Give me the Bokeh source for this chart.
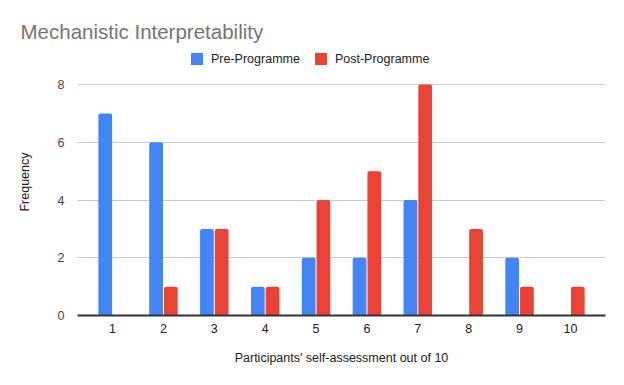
from bokeh.plotting import figure
from bokeh.models import Range1d, FixedTicker, Legend, LegendItem
from bokeh.embed import file_html
from bokeh.resources import INLINE

scores = [1, 2, 3, 4, 5, 6, 7, 8, 9, 10]
pre_programme = [7, 6, 3, 1, 2, 2, 4, 0, 2, 0]
post_programme = [0, 1, 3, 1, 4, 5, 8, 3, 1, 1]
y_ticks = [0, 2, 4, 6, 8]

FONT = "Liberation Sans"
BLUE = "#4285F4"
RED = "#EA4335"

p = figure(width=616, height=377, output_backend="svg", toolbar_location=None,
           x_range=Range1d(0.31, 10.69), y_range=Range1d(0, 9.25),
           min_border_left=77, min_border_right=11, min_border_top=48, min_border_bottom=62)

r1 = p.vbar(x=[s - 0.145 for s in scores], top=pre_programme, width=0.27, bottom=0,
            fill_color=BLUE, line_color=None, border_radius=(2, 2, 0, 0))
r2 = p.vbar(x=[s + 0.145 for s in scores], top=post_programme, width=0.27, bottom=0,
            fill_color=RED, line_color=None, border_radius=(2, 2, 0, 0))

p.title.text = "Mechanistic Interpretability"
p.title.text_font = FONT
p.title.text_font_size = "20.5px"
p.title.text_font_style = "normal"
p.title.text_color = "#757575"
p.title.offset = -57
p.title.standoff = 11

legend = Legend(items=[LegendItem(label="Pre-Programme", renderers=[r1]),
                       LegendItem(label="Post-Programme", renderers=[r2])],
                orientation="horizontal", location=(112, 249),
                label_text_font=FONT, label_text_font_size="12.5px", label_text_color="#222222",
                glyph_width=15, glyph_height=15, spacing=13, label_standoff=7,
                label_height=15, border_line_color=None, background_fill_alpha=0,
                padding=0, margin=0)
p.add_layout(legend, "center")

p.xaxis.ticker = FixedTicker(ticks=scores)
p.yaxis.ticker = FixedTicker(ticks=y_ticks)
p.xgrid.grid_line_color = None
p.ygrid.grid_line_color = "#cccccc"
p.ygrid.grid_line_width = 1

for ax in (p.xaxis, p.yaxis):
    ax.major_tick_line_color = None
    ax.minor_tick_line_color = None
    ax.major_label_text_font = FONT
    ax.major_label_text_font_size = "12.5px"
    ax.axis_label_text_font = FONT
    ax.axis_label_text_font_size = "12.5px"
    ax.axis_label_text_font_style = "normal"
    ax.axis_label_text_color = "#222222"

p.yaxis.axis_line_color = None
p.yaxis.major_label_text_color = "#444444"
p.yaxis.axis_label = "Frequency"
p.yaxis.major_label_standoff = 7
p.yaxis.axis_label_standoff = 23

p.xaxis.axis_line_color = "#333333"
p.xaxis.axis_line_width = 2
p.xaxis.major_label_text_color = "#222222"
p.xaxis.axis_label = "Participants' self-assessment out of 10"
p.xaxis.major_label_standoff = 2
p.xaxis.axis_label_standoff = 15

p.outline_line_color = None

open("out.html", "w").write(file_html(p, INLINE))
